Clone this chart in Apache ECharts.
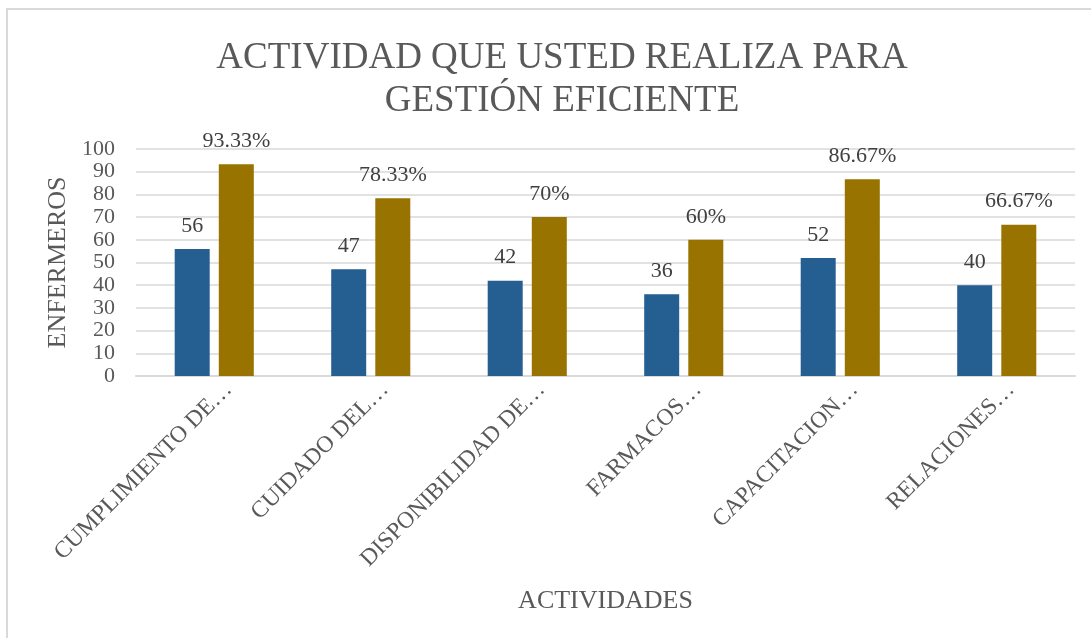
<!DOCTYPE html>
<html><head><meta charset="utf-8">
<script src="https://cdn.jsdelivr.net/npm/echarts@6/dist/echarts.min.js"></script>
<style>html,body{margin:0;padding:0;background:#fff}#c{width:1091px;height:638px}</style>
</head><body><div id="c"></div>
<script>
const categories = ['CUMPLIMIENTO DE…','CUIDADO DEL…','DISPONIBILIDAD DE…','FARMACOS…','CAPACITACION…','RELACIONES…'];
const enfermeros = [56,47,42,36,52,40];
const porcentaje = [93.33,78.33,70,60,86.67,66.67];
const pctLabels = ['93.33%','78.33%','70%','60%','86.67%','66.67%'];
const yTicks = [0,10,20,30,40,50,60,70,80,90,100];

const FONT = '"Liberation Serif","Times New Roman",serif';
const chart = echarts.init(document.getElementById('c'));
chart.setOption({
  animation:false,
  graphic:[{type:'rect',shape:{x:7,y:9,width:1200,height:800},style:{fill:'none',stroke:'#d9d9d9',lineWidth:2},silent:true}],
  title:{text:'ACTIVIDAD QUE USTED REALIZA PARA\nGESTIÓN EFICIENTE',left:557,top:32,textAlign:'center',
    textStyle:{fontFamily:FONT,fontSize:37,fontWeight:'normal',color:'#595959',lineHeight:43}},
  grid:{left:136,right:16,top:149,bottom:262},
  xAxis:{type:'category',data:categories,
    name:'ACTIVIDADES',nameLocation:'middle',nameGap:212,
    nameTextStyle:{fontFamily:FONT,fontSize:26,color:'#595959'},
    axisLine:{lineStyle:{color:'#d9d9d9',width:2}},axisTick:{show:false},
    axisLabel:{rotate:45,interval:0,margin:-4,padding:[8,0,0,0],verticalAlign:'top',fontFamily:FONT,fontSize:23.5,color:'#595959'}},
  yAxis:{type:'value',min:0,max:100,interval:10,
    name:'ENFERMEROS',nameLocation:'middle',nameGap:65,nameRotate:90,
    nameTextStyle:{fontFamily:FONT,fontSize:26,color:'#595959'},
    axisLine:{show:false},axisTick:{show:false},
    axisLabel:{margin:21,fontFamily:FONT,fontSize:22,color:'#595959',
      formatter:v=>yTicks.includes(v)?String(v):''},
    splitLine:{lineStyle:{color:'#d9d9d9',width:1.5}}},
  series:[
    {type:'bar',data:enfermeros,barWidth:35,barGap:'26%',
      itemStyle:{color:'#255e91'},
      label:{show:true,position:'top',distance:12,fontFamily:FONT,fontSize:22,color:'#404040'}},
    {type:'bar',data:porcentaje,barWidth:35,
      itemStyle:{color:'#997300'},
      label:{show:true,position:'top',distance:12,fontFamily:FONT,fontSize:22,color:'#404040',
        formatter:p=>pctLabels[p.dataIndex]}}
  ]
});
</script></body></html>
